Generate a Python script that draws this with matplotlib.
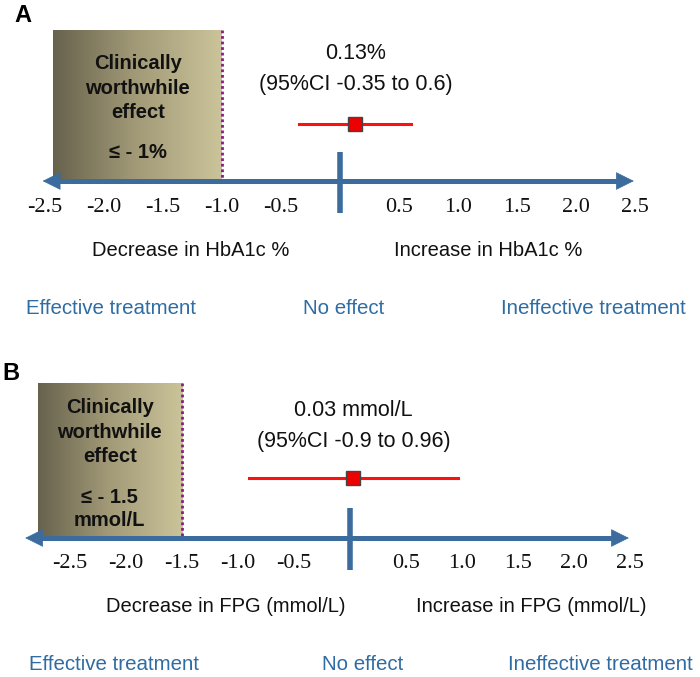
import numpy as np
import matplotlib
matplotlib.use("Agg")
import matplotlib.pyplot as plt
from matplotlib.colors import LinearSegmentedColormap

# ---- data ----
tick_values = [-2.5, -2.0, -1.5, -1.0, -0.5, 0.5, 1.0, 1.5, 2.0, 2.5]
tick_labels = ["-2.5", "-2.0", "-1.5", "-1.0", "-0.5", "0.5", "1.0", "1.5", "2.0", "2.5"]

a_estimate = 0.13
a_ci = [-0.35, 0.6]
a_threshold = -1.0
a_title = "0.13%\n(95%CI -0.35 to 0.6)"
a_box_text = "Clinically\nworthwhile\neffect"
a_box_limit = "≤ - 1%"
a_dec = "Decrease in HbA1c %"
a_inc = "Increase in HbA1c %"

b_estimate = 0.03
b_ci = [-0.9, 0.96]
b_threshold = -1.5
b_title = "0.03 mmol/L\n(95%CI -0.9 to 0.96)"
b_box_text = "Clinically\nworthwhile\neffect"
b_box_limit = "≤ - 1.5\nmmol/L"
b_dec = "Decrease in FPG (mmol/L)"
b_inc = "Increase in FPG (mmol/L)"

effect_labels = ["Effective treatment", "No effect", "Ineffective treatment"]

# ---- style ----
BLUE = "#3b6c9d"
TXTBLUE = "#2f6ca3"
SANS = "Liberation Sans"
SERIF = "Liberation Serif"
cmap = LinearSegmentedColormap.from_list("box", ["#67624d", "#a39b78", "#cbc399"])

W, H = 700, 677
fig = plt.figure(figsize=(W / 100, H / 100), dpi=100)


def panel(letter, letter_xy, zero_px, scale, y_top, y_axis, box_left, estimate, ci,
          threshold, title, title_y, marker_y, box_text, box_text_y, limit_text, limit_y,
          bar_y, arrow_l, arrow_r, dec, inc, dec_x, inc_x, lab_y, eff_x, eff_y):
    ax = fig.add_axes([0, 0, 1, 1])
    ax.set_xlim(-zero_px / scale, (W - zero_px) / scale)
    ax.set_ylim(H, 0)
    ax.axis("off")
    ax.patch.set_alpha(0)

    px = lambda p: (p - zero_px) / scale

    # gradient box
    grad = np.linspace(0, 1, 256).reshape(1, -1)
    ax.imshow(grad, extent=(box_left, threshold, y_axis, y_top), aspect="auto",
              cmap=cmap, zorder=1, interpolation="bilinear")
    ax.plot([threshold, threshold], [y_top, y_axis], ls=(0, (1, 1)), color="#8b1a8b",
            lw=2, zorder=2)
    bx = (box_left + threshold) / 2
    ax.text(bx, box_text_y, box_text, ha="center", va="center", fontsize=14.5,
            fontweight="bold", family=SANS, color="#111111", linespacing=1.38, zorder=3)
    ax.text(bx, limit_y, limit_text, ha="center", va="center", fontsize=14.5,
            fontweight="bold", family=SANS, color="#111111", linespacing=1.25, zorder=3)

    # axis arrow
    ax.plot([arrow_l + 0.08, arrow_r - 0.08], [y_axis, y_axis], color=BLUE, lw=3.6,
            solid_capstyle="butt", zorder=4)
    for tip, tail in ((arrow_r, arrow_r - 0.3), (arrow_l, arrow_l + 0.3)):
        ax.annotate("", xy=(tip, y_axis), xytext=(tail, y_axis),
                    arrowprops=dict(arrowstyle="-|>,head_length=1.2,head_width=0.6",
                                    lw=0.5, color=BLUE, shrinkA=0, shrinkB=0,
                                    mutation_scale=10), zorder=4)
    # zero bar
    ax.plot([0, 0], bar_y, color=BLUE, lw=4, solid_capstyle="butt", zorder=4)

    # ticks
    for v, lab in zip(tick_values, tick_labels):
        ax.text(v, lab_y, lab, ha="center", va="center", fontsize=16, family=SERIF,
                color="#111111")

    # estimate
    ax.plot(ci, [marker_y, marker_y], color="#ff1010", lw=2.2, zorder=5)
    ax.plot([estimate], [marker_y], marker="s", ms=9.5, mfc="#ee0000", mec="#444444",
            mew=1, zorder=6)
    ax.text(estimate, title_y, title, ha="center", va="center", fontsize=15.5,
            family=SANS, color="#111111", linespacing=1.6)

    # direction labels
    ax.text(px(dec_x), lab_y + 44, dec, ha="center", va="center", fontsize=14.5,
            family=SANS, color="#111111")
    ax.text(px(inc_x), lab_y + 44, inc, ha="center", va="center", fontsize=14.5,
            family=SANS, color="#111111")
    for x, t in zip(eff_x, effect_labels):
        ax.text(px(x), eff_y, t, ha="center", va="center", fontsize=14.8,
                family=SANS, color=TXTBLUE)

    fig.text(letter_xy[0] / W, 1 - letter_xy[1] / H, letter, fontsize=17,
             fontweight="bold", family=SANS, ha="left", va="center")


panel("A", (14, 16), 340, 118, 30, 181, -2.43, a_estimate, a_ci, a_threshold,
      a_title, 69, 124, a_box_text, 88, a_box_limit, 153, [152, 213], -2.52, 2.49,
      a_dec, a_inc, 191, 488, 207, [111, 344, 593], 308)

panel("B", (2, 373), 350, 112, 383, 538, -2.79, b_estimate, b_ci, b_threshold,
      b_title, 426, 478, b_box_text, 432, b_box_limit, 509, [508, 570], -2.9, 2.49,
      b_dec, b_inc, 226, 531, 563, [114, 363, 600], 665)

fig.savefig("out.png", dpi=100)
